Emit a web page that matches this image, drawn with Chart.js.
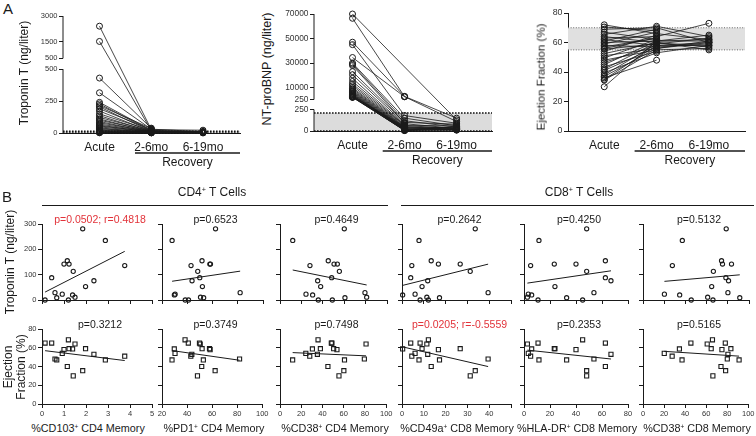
<!DOCTYPE html>
<html>
<head>
<meta charset="utf-8">
<script src="https://cdn.jsdelivr.net/npm/chart.js@4.4.1/dist/chart.umd.min.js"></script>
<style>
  html, body { margin: 0; padding: 0; background: #fff; }
  #fig { position: relative; width: 756px; height: 436px; overflow: hidden; font-family: "Liberation Sans", Arial, sans-serif; color: #1a1a1a; }
  #fig canvas { position: absolute; }
  .t { position: absolute; white-space: nowrap; line-height: 1.1; text-align: center; }
  .t sup { font-size: 0.6em; vertical-align: 0.55em; line-height: 0; }
  .rule { position: absolute; height: 1.3px; background: #1a1a1a; }
</style>
</head>
<body>
<div id="fig"></div>
<script>
// ---- panel A : one entry per patient, null = not measured ----
const visits = ["Acute", "2-6mo", "6-19mo"];
const recoveryLabel = "Recovery";

const tropAcute = [2400, 1500, 430, 315, 240, 228, 215, 205, 190, 172, 150, 136, 122, 110, 100, 90, 80, 70, 62, 55, 48, 40, 34, 28, 22, 18, 14, 10, 8, 5, 3, 2];
const trop2to6 = [28, 20, 38, 30, 22, 16, 35, 12, 26, 10, 19, 8, 15, 6, 14, 5, 11, 9, 4, 10, 7, 3, 6, 5, 4, 8, 3, 2, 5, 3, 2, 1];
const trop6to19 = [null, 12, null, 10, null, 8, null, 5, 22, null, 6, null, 4, null, 9, null, 3, null, 7, null, null, 2, 5, null, 3, null, 4, null, 2, null, 1, null];

const bnpAcute = [70000, 66500, 47000, 45000, 34500, 30000, 29000, 28000, 23000, 20500, 17500, 15000, 13000, 11500, 10000, 9000, 8000, 7200, 6500, 5800, 5200, 4700, 4200, 3800, 3400, 3000, 2800, 2600, 2400, 2200, 2100, 2000];
const bnp2to6 = [null, 2600, 2800, 180, 2500, 150, 120, 95, 100, 85, 70, 65, 60, 50, 45, 40, 35, 30, 25, 20, 18, 15, 12, 10, 30, 50, 8, 6, 20, 5, 40, 10];
const bnp6to19 = [130, 110, 150, 90, null, 60, 45, null, 80, 30, null, 25, 70, null, 40, 20, null, 35, 15, null, 50, 10, null, 28, null, 18, null, 55, null, 12, null, 22];

const efAcute = [72, 70.5, 69, 67, 65.5, 64, 63, 62, 61, 60, 59, 58, 57, 55.5, 54, 52.5, 51, 49.5, 48, 46.5, 45, 43.5, 42, 41, 39.5, 38, 37, 36, 35, 34.5, 30, 56];
const ef2to6 = [66, 68, 70, 62, 71, 60, 64, 58, 69, 61, 67, 57, 63, 59, 65, 60, 56, 62, 55, 58, 61, 54, 60, 57, 53, 59, 56, 48, 58, 55, 61, 63];
const ef6to19 = [62, null, 60, null, 64, null, 73, 58, null, 61, null, 59, null, 63, null, 57, 60, null, 56, null, 62, null, 55, null, 58, null, 61, null, 60, null, 65, null];

// tick labels (lower part / upper part of broken axes)
const tropTicksLow = [0, 250, 500];
const tropTicksHigh = [500, 1500, 3000];
const bnpTicksLow = [0, 250];
const bnpTicksHigh = [250, 10000, 30000, 50000, 70000];
const efTicks = [0, 20, 40, 60, 80];
const tropNormal = [0, 14];
const bnpNormal = [0, 210];
const efNormal = [55, 70];

// ---- panel B : 17 patients ----
const tropB = [20, 88, 136, 23, 235, 0, 53, 11, 76, 0, 155, 142, 9, 142, 113, 281, 29];
const efB = [58.7, 65, 51, 54, 47, 65, 59, 64, 53, 68.5, 40, 58, 47, 59, 30, 35.5, 48];
const cd103 = [1.39, 0.44, 3.76, 0.92, 2.88, 0.14, 1.98, 1.5, 2.36, 1.2, 1.15, 1.0, 0.67, 1.23, 1.42, 1.85, 0.59];
const pd1 = [29.8, 49.9, 43, 30.4, 28, 41, 52, 50.5, 43.8, 38.4, 51.7, 58.4, 53, 57.9, 48.3, 62.4, 81.9];
const cd38cd4 = [30.5, 48.3, 28, 24.3, 11.9, 48.9, 38, 81, 35.2, 35.8, 45.1, 53.6, 60.7, 50.5, 55.5, 60.1, 79.4];
const cd49a = [0.3, 4, 4.5, 6, 7.8, 8.3, 9.2, 11.4, 11.8, 12.1, 13.4, 16.7, 17.2, 26.7, 31.3, 33.6, 39.5];
const hladr = [5.9, 62.6, 5.1, 3.3, 11.5, 10.8, 23.8, 2.6, 66.9, 45.1, 62.6, 40, 32.8, 23.3, 48.2, 48.2, 53.8];
const cd38cd8 = [34.6, 78.2, 27.7, 20.2, 37.1, 45.5, 64.8, 61, 80.7, 66, 74.1, 75, 91.3, 83.5, 66.4, 78.5, 80.1];

const markerNames = ["%CD103<sup>+</sup> CD4 Memory", "%PD1<sup>+</sup> CD4 Memory", "%CD38<sup>+</sup> CD4 Memory",
  "%CD49a<sup>+</sup> CD8 Memory", "%HLA-DR<sup>+</sup> CD8 Memory", "%CD38<sup>+</sup> CD8 Memory"];
const pTrop = ["p=0.0502; r=0.4818", "p=0.6523", "p=0.4649", "p=0.2642", "p=0.4250", "p=0.5132"];
const pEF = ["p=0.3212", "p=0.3749", "p=0.7498", "p=0.0205; r=-0.5559", "p=0.2353", "p=0.5165"];
const sigTrop = [true, false, false, false, false, false];
const sigEF = [false, false, false, true, false, false];

const xTicksB = [[0, 1, 2, 3, 4, 5], [20, 40, 60, 80, 100], [0, 20, 40, 60, 80, 100],
  [0, 10, 20, 30, 40, 50], [0, 20, 40, 60, 80], [0, 20, 40, 60, 80, 100]];
const xShownB = [[0, 1, 2, 3, 4, 5], [20, 40, 60, 80, 100], [0, 20, 40, 60, 80, 100],
  [0, 10, 20, 30, 40], [0, 20, 40, 60, 80], [0, 20, 40, 60, 80, 100]];
const tropTicksB = [0, 100, 200, 300];
const efTicksB = [0, 20, 40, 60, 80];

// ---------------------------------------------------------------
const fig = document.getElementById("fig");
const INK = "#1a1a1a";
Chart.defaults.font.family = '"Liberation Sans", Arial, sans-serif';
Chart.defaults.color = INK;

// broken axes: values above the break are squeezed
function tropY(v) { return v <= 500 ? v : 584 + (v - 500) * 0.1328; }
function bnpY(v) { return v <= 250 ? v : 366.8 + (v - 250) * 0.01429; }

function txt(html, x, y, size, color, rot) {
  const d = document.createElement("div");
  d.className = "t";
  d.innerHTML = html;
  d.style.left = x + "px";
  d.style.top = y + "px";
  d.style.fontSize = size + "px";
  if (color) d.style.color = color;
  d.style.transform = "translate(-50%,-50%)" + (rot ? " rotate(-90deg)" : "");
  fig.appendChild(d);
}

function rule(x, y, w) {
  const d = document.createElement("div");
  d.className = "rule";
  d.style.left = x + "px";
  d.style.top = y + "px";
  d.style.width = w + "px";
  fig.appendChild(d);
}

function linfit(xs, ys) {
  const n = xs.length;
  const mx = xs.reduce((s, v) => s + v, 0) / n;
  const my = ys.reduce((s, v) => s + v, 0) / n;
  let sxy = 0, sxx = 0;
  xs.forEach((x, i) => { sxy += (x - mx) * (ys[i] - my); sxx += (x - mx) * (x - mx); });
  const b = sxy / sxx;
  return { a: my - b * mx, b };
}

// bands, broken axis line, "Recovery" bar
const extras = {
  id: "extras",
  beforeDatasetsDraw(chart, args, o) {
    const { ctx, chartArea: a, scales: { y } } = chart;
    (o.bands || []).forEach(b => {
      const y0 = y.getPixelForValue(b.from), y1 = y.getPixelForValue(b.to);
      ctx.save();
      ctx.fillStyle = b.fill;
      ctx.fillRect(a.left, y1, a.right - a.left, y0 - y1);
      ctx.strokeStyle = b.line;
      ctx.lineWidth = b.lw;
      ctx.setLineDash(b.dash);
      [y0, y1].forEach(yy => { ctx.beginPath(); ctx.moveTo(a.left, yy); ctx.lineTo(a.right, yy); ctx.stroke(); });
      ctx.restore();
    });
  },
  afterDraw(chart, args, o) {
    const { ctx, chartArea: a, scales: { x, y } } = chart;
    ctx.save();
    ctx.strokeStyle = INK;
    ctx.lineWidth = 1;
    (o.segs || []).forEach(s => {
      ctx.beginPath();
      ctx.moveTo(a.left, y.getPixelForValue(s[0]));
      ctx.lineTo(a.left, y.getPixelForValue(s[1]));
      ctx.stroke();
    });
    if (o.recFrom != null) {
      const x0 = x.getPixelForValue(o.recFrom);
      ctx.lineWidth = 1.4;
      ctx.beginPath();
      ctx.moveTo(x0, a.bottom + 20);
      ctx.lineTo(a.right, a.bottom + 20);
      ctx.stroke();
      ctx.fillStyle = INK;
      ctx.font = '12px "Liberation Sans", Arial, sans-serif';
      ctx.textAlign = "center";
      ctx.textBaseline = "middle";
      ctx.fillText(recoveryLabel, (x0 + a.right) / 2, a.bottom + 30);
    }
    ctx.restore();
  }
};

// rect = [left, top, right, bottom] of the plot area on the page
function mk(rect, yW, xH, cfg) {
  const padT = 7, padR = 7;
  const w = Math.round(yW + rect[2] - rect[0] + padR);
  const h = Math.round(padT + rect[3] - rect[1] + xH);
  const c = document.createElement("canvas");
  c.style.left = (rect[0] - yW) + "px";
  c.style.top = (rect[1] - padT) + "px";
  c.style.width = w + "px";
  c.style.height = h + "px";
  c.width = w;
  c.height = h;
  fig.appendChild(c);
  const o = cfg.options;
  o.responsive = false;
  o.animation = false;
  o.layout = { autoPadding: false, padding: { top: padT, right: padR, left: 0, bottom: 0 } };
  o.scales.x.afterFit = s => { s.height = xH; };
  o.scales.y.afterFit = s => { s.width = yW; };
  o.plugins = Object.assign({ legend: { display: false }, tooltip: { enabled: false } }, o.plugins || {});
  return new Chart(c, cfg);
}

function pairedChart(rect, xlim, series, yf, yTicks, yLabels, yMax, segs, band, recFrom, tickSize) {
  const [s0, s1, s2] = series;
  const datasets = s0.map((v, i) => ({
    data: [s0[i], s1[i], s2[i]].map((y, k) => y == null ? null : { x: k, y: yf(y) }).filter(Boolean),
    borderColor: INK, borderWidth: 0.8,
    pointRadius: 3, pointBorderWidth: 1, pointBorderColor: INK,
    pointBackgroundColor: "rgba(255,255,255,0)", clip: false
  }));
  return mk(rect, 34, 42, {
    type: "line",
    data: { datasets },
    options: {
      scales: {
        x: {
          type: "linear", min: xlim[0], max: xlim[1],
          afterBuildTicks: s => { s.ticks = [0, 1, 2].map(v => ({ value: v })); },
          ticks: { font: { size: 12 }, padding: 7, color: INK, maxRotation: 0, autoSkip: false, callback: (v, i) => visits[i] },
          grid: { drawOnChartArea: false, drawTicks: false },
          border: { color: INK, width: 1 }
        },
        y: {
          type: "linear", min: 0, max: yMax,
          afterBuildTicks: s => { s.ticks = yTicks.map(v => ({ value: v })); },
          ticks: { font: { size: tickSize }, padding: 1.5, color: "#333", autoSkip: false, callback: (v, i) => yLabels[i] },
          grid: { drawOnChartArea: false, tickLength: 4, color: INK },
          border: { display: !segs, color: INK, width: 1 }
        }
      },
      plugins: { extras: { bands: [band], segs, recFrom } }
    },
    plugins: [extras]
  });
}

// ---- panel A ----
pairedChart([63, 16, 240, 133], [-0.705, 2.715], [tropAcute, trop2to6, trop6to19], tropY,
  tropTicksLow.concat(tropTicksHigh).map(tropY).map((v, i) => i === 3 ? 584 : v),
  tropTicksLow.concat(tropTicksHigh), tropY(3000),
  [[0, 500], [584, tropY(3000)]],
  { from: tropNormal[0], to: tropY(tropNormal[1]), fill: "#dcdcdc", line: "#111", lw: 1.6, dash: [1.6, 1.4] }, 0.686, 7.5);

pairedChart([314, 14, 492, 131], [-0.74, 2.68], [bnpAcute, bnp2to6, bnp6to19], bnpY,
  bnpTicksLow.concat(bnpTicksHigh).map(bnpY).map((v, i) => i === 2 ? 366.8 : v),
  bnpTicksLow.concat(bnpTicksHigh), bnpY(70000),
  [[0, 250], [366.8, bnpY(70000)]],
  { from: bnpNormal[0], to: bnpNormal[1], fill: "#dcdcdc", line: "#111", lw: 1.6, dash: [1.6, 1.4] }, 0.58, 8.4);

pairedChart([568, 13, 745, 131], [-0.693, 2.69], [efAcute, ef2to6, ef6to19], v => v,
  efTicks, efTicks, 80, null,
  { from: efNormal[0], to: efNormal[1], fill: "#e0e0e0", line: "#666", lw: 1, dash: [1, 1.6] }, 0.58, 8.8);

txt("A", 8, 9, 15);
txt("Troponin T (ng/liter)", 25, 73, 12, null, true);
txt("NT-proBNP (ng/liter)", 268, 69, 12.5, null, true);
txt("Ejection Fraction (%)", 541, 77, 11.5, null, true);

// ---- panel B ----
const markers = [cd103, pd1, cd38cd4, cd49a, hladr, cd38cd8];
const colLR = [[42, 152], [162, 263], [280, 387], [402, 511], [524, 628], [643, 749]];
const colX = [[0, 5], [20, 100], [0, 100], [0, 50], [0, 80], [0, 100]];
const titleX = [88, 214, 335, 457, 577, 697];

function axisB(lim, ticks, shown, showLabels) {
  return {
    type: "linear", min: lim[0], max: lim[1],
    afterBuildTicks: s => { s.ticks = ticks.map(v => ({ value: v })); },
    ticks: {
      display: showLabels, font: { size: 7.5 }, padding: 1.5, color: "#333", autoSkip: false, maxRotation: 0,
      callback: v => shown.includes(v) ? String(v) : ""
    },
    grid: { drawOnChartArea: false, drawTicks: true, tickLength: 4, color: INK, lineWidth: 1 },
    border: { display: true, color: INK, width: 1 }
  };
}

function scatterPanel(rect, ci, ys, yLim, yTicks, shape, showX) {
  const xs = markers[ci];
  const fit = linfit(xs, ys);
  const x0 = Math.min(...xs), x1 = Math.max(...xs);
  const first = ci === 0;
  return mk(rect, first ? 42 : 8, showX ? 16 : 6, {
    type: "scatter",
    data: {
      datasets: [
        {
          data: xs.map((x, i) => ({ x, y: ys[i] })),
          pointStyle: shape, pointRadius: shape === "rect" ? 2.9 : 2.1,
          pointBorderWidth: 1.1, pointBorderColor: INK, pointBackgroundColor: "rgba(255,255,255,0)", clip: false
        },
        {
          data: [{ x: x0, y: fit.a + fit.b * x0 }, { x: x1, y: fit.a + fit.b * x1 }],
          showLine: true, borderColor: INK, borderWidth: 1, pointRadius: 0, clip: false
        }
      ]
    },
    options: {
      scales: {
        x: axisB(colX[ci], xTicksB[ci], xShownB[ci], showX),
        y: axisB(yLim, yTicks, yTicks, first)
      }
    }
  });
}

markers.forEach((m, ci) => {
  const [L, R] = colLR[ci];
  scatterPanel([L, 224, R, 300], ci, tropB, [0, 300], tropTicksB, "circle", false);
  scatterPanel([L, 329, R, 404], ci, efB, [0, 80], efTicksB, "rect", true);
  const cx = (L + R) / 2 + 3;
  txt(pTrop[ci], cx, 220, 10.5, sigTrop[ci] ? "#e2333a" : null);
  txt(pEF[ci], cx, 325, 10.5, sigEF[ci] ? "#e2333a" : null);
  txt(markerNames[ci], titleX[ci], 429, 10.8);
});

txt("B", 7, 197, 15);
txt("CD4<sup>+</sup> T Cells", 212, 193, 12);
txt("CD8<sup>+</sup> T Cells", 579, 193, 12);
rule(42, 205, 346);
rule(401, 205, 353);
txt("Troponin T (ng/liter)", 11, 262, 12, null, true);
txt("Ejection<br>Fraction (%)", 15, 367, 12, null, true);
</script>
</body>
</html>
